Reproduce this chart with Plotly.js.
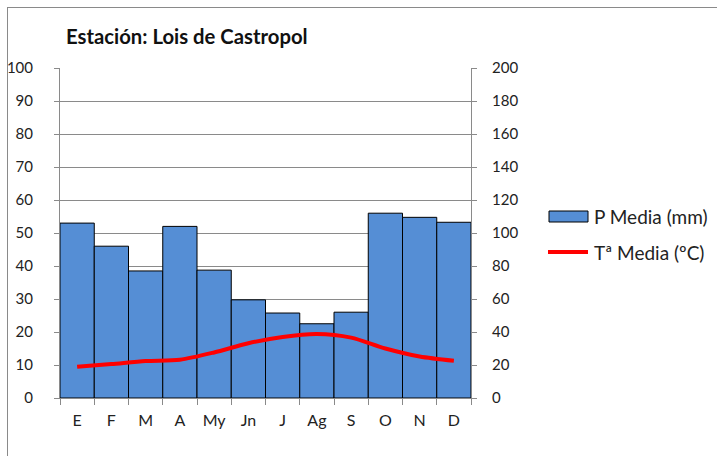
<!DOCTYPE html>
<html><head><meta charset="utf-8">
<script src="https://cdn.plot.ly/plotly-3.0.1.min.js"></script>
<style>
html,body{margin:0;padding:0;background:#fff;}
#wrap{position:relative;width:717px;height:456px;overflow:hidden;}
#chart{width:717px;height:456px;}
#frame{position:absolute;left:7px;top:7px;width:800px;height:600px;border-left:1.5px solid #8a8a8a;border-top:1.5px solid #8a8a8a;pointer-events:none;}
</style></head>
<body>
<div id="wrap"><div id="chart"></div><div id="frame"></div></div>
<script>
const months = ["E","F","M","A","My","Jn","J","Ag","S","O","N","D"];
const precip = [106, 92, 77, 104, 77.5, 59.5, 51.5, 45, 52, 112, 109.5, 106.5];
const temp = [9.5, 10.3, 11.2, 11.6, 13.8, 16.6, 18.5, 19.4, 18.3, 15.0, 12.6, 11.3];
const precipName = "P Media (mm)";
const tempName = "Tª Media (ºC)";
const titleText = "Estación: Lois de Castropol";

const FONT = "Lato, 'Liberation Sans', sans-serif";
const BAR_COLOR = "#558ED5", LINE_COLOR = "#FF0000";
const ML = 60, MR = 246, MT = 68, MB = 58, W = 717, H = 456;
const PW = W - ML - MR, PH = H - MT - MB;
const px = v => (v - ML) / PW;           // pixel x -> paper x
const py = v => (H - MB - v) / PH;       // pixel y -> paper y

const data = [
  {type:"bar", x:months, y:precip, name:precipName, yaxis:"y", showlegend:false,
   marker:{color:BAR_COLOR, line:{color:"#000", width:1}}},
  {type:"scatter", mode:"lines", x:months, y:temp, name:tempName, yaxis:"y2", showlegend:false,
   line:{color:LINE_COLOR, width:4, shape:"spline", smoothing:0.8}}
];
const layout = {
  width:W, height:H,
  margin:{l:ML, r:MR, t:MT, b:MB},
  paper_bgcolor:"#fff", plot_bgcolor:"#fff",
  font:{family:FONT, size:15, color:"#222"},
  title:{text:"<b>"+titleText+"</b>", font:{family:FONT, size:20.3, color:"#111"},
         xref:"container", yref:"container", x:66/W, xanchor:"left", y:1-37/H, yanchor:"middle"},
  bargap:0,
  showlegend:false,
  shapes:[
    {type:"rect", xref:"paper", yref:"paper", x0:px(549), x1:px(588), y0:py(222), y1:py(211),
     fillcolor:BAR_COLOR, line:{color:"#000", width:1}},
    {type:"line", xref:"paper", yref:"paper", x0:px(548), x1:px(588), y0:py(252), y1:py(252),
     line:{color:LINE_COLOR, width:4}}
  ],
  annotations:[
    {xref:"paper", yref:"paper", x:px(592), y:py(216), xanchor:"left", yanchor:"middle",
     text:precipName, showarrow:false, font:{family:FONT, size:19, color:"#222"}},
    {xref:"paper", yref:"paper", x:px(592), y:py(252), xanchor:"left", yanchor:"middle",
     text:tempName, showarrow:false, font:{family:FONT, size:19, color:"#222"}}
  ],
  xaxis:{type:"category", range:[-0.5,11.5], tickson:"boundaries", ticks:"outside", ticklen:6,
         tickcolor:"#8a8a8a", showline:true, linecolor:"#8a8a8a", linewidth:1, showgrid:false,
         ticklabelstandoff:8, tickfont:{size:16}},
  yaxis:{range:[0,200], dtick:20, side:"right", showgrid:true, gridcolor:"#8a8a8a", gridwidth:1,
         ticks:"outside", ticklen:5, tickcolor:"#8a8a8a", showline:true, linecolor:"#8a8a8a",
         linewidth:1, zeroline:false, ticklabelstandoff:12, tickfont:{size:15}},
  yaxis2:{range:[0,100], dtick:10, side:"left", overlaying:"y", showgrid:false,
          ticks:"outside", ticklen:5, tickcolor:"#8a8a8a", showline:true, linecolor:"#8a8a8a",
          linewidth:1, zeroline:false, ticklabelstandoff:18, tickfont:{size:15}}
};
Plotly.newPlot("chart", data, layout, {staticPlot:true, displayModeBar:false});
</script>
</body></html>
